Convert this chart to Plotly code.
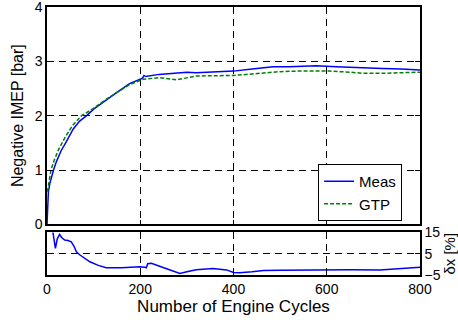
import plotly.graph_objects as go

# IMEP curves
meas_cycles = [0, 1, 3, 6, 10, 14, 20, 30, 40, 56, 70, 85, 100, 128, 150, 177, 200, 205, 208,
               212, 240, 270, 300, 320, 350, 370, 400, 440, 485, 520, 578, 620, 678, 720, 760, 800]
meas_imep = [0, 0.42, 0.6, 0.75, 0.88, 1.0, 1.15, 1.35, 1.5, 1.75, 1.9, 2.0, 2.12, 2.3, 2.43, 2.59,
             2.67, 2.69, 2.74, 2.72, 2.76, 2.78, 2.8, 2.79, 2.8, 2.81, 2.82, 2.86, 2.9, 2.9, 2.92,
             2.9, 2.89, 2.87, 2.86, 2.84]

gtp_cycles = [1, 4, 8.5, 15, 25, 40, 55, 74, 99, 130, 177, 206, 242, 278, 300, 320, 400, 464,
              500, 535, 607, 650, 678, 720, 760, 797, 800]
gtp_imep = [0.6, 0.8, 1.0, 1.17, 1.38, 1.62, 1.82, 2.0, 2.13, 2.32, 2.57, 2.67, 2.70, 2.66, 2.70,
            2.73, 2.74, 2.79, 2.81, 2.82, 2.82, 2.8, 2.78, 2.78, 2.79, 2.79, 2.8]

# relative difference, bottom panel
dx_cycles = [12, 16, 18, 22, 27, 32, 38, 45, 52, 58, 63, 70, 80, 92, 110, 127, 160, 180, 199,
             210, 213, 216, 224, 240, 255, 270, 285, 300, 320, 356, 385, 400, 413, 440, 464,
             500, 535, 570, 607, 650, 714, 750, 778, 800]
dx_pct = [16, 10, 7.5, 12, 14, 12.5, 11.4, 11.2, 10.6, 8.5, 5.9, 4.5, 3, 1.2, -0.5, -1.6, -1.6,
          -1.4, -1.1, -1.4, -1.6, 0.3, 0.5, -0.8, -2, -3.4, -4.3, -3.5, -2.5, -2, -2.6, -3.8,
          -3.9, -3.5, -2.9, -2.8, -2.7, -2.5, -2.3, -2.5, -2.6, -2.1, -1.6, -1.4]

x_ticks = [0, 200, 400, 600, 800]

FONT = dict(family="Arial, Liberation Sans, sans-serif", size=14, color="black")
GRID = dict(showgrid=True, gridcolor="black", gridwidth=1, griddash="7px,5px",
            zeroline=False, showline=True, linecolor="black", linewidth=1.5,
            mirror="ticks", ticks="inside", ticklen=5, tickcolor="black",
            automargin=False, ticklabeloverflow="allow")

fig = go.Figure()

fig.add_trace(go.Scatter(x=meas_cycles, y=meas_imep, mode="lines", name="Meas",
                         line=dict(color="#0000FF", width=1.5), xaxis="x", yaxis="y"))
fig.add_trace(go.Scatter(x=gtp_cycles, y=gtp_imep, mode="lines", name="GTP",
                         line=dict(color="#008000", width=1.5, dash="4px,2px"),
                         xaxis="x", yaxis="y"))
fig.add_trace(go.Scatter(x=dx_cycles, y=dx_pct, mode="lines", showlegend=False,
                         line=dict(color="#0000FF", width=1.5), xaxis="x2", yaxis="y2"))

fig.update_layout(
    width=458, height=320,
    margin=dict(l=47, r=38, t=7, b=45),
    paper_bgcolor="white", plot_bgcolor="white",
    font=FONT,
    xaxis=dict(domain=[0, 1], anchor="y", range=[0, 800], tickvals=x_ticks,
               showticklabels=False, **GRID),
    yaxis=dict(domain=[0.189, 1], anchor="x", range=[0, 4], tickvals=[0, 1, 2, 3, 4],
               title=dict(text="Negative IMEP [bar]", standoff=7, font=dict(size=16)),
               **GRID),
    xaxis2=dict(domain=[0, 1], anchor="y2", range=[0, 800], tickvals=x_ticks,
                title=dict(text="Number of Engine Cycles", standoff=3), **GRID),
    yaxis2=dict(domain=[0, 0.159], anchor="x2", range=[-5, 15], tickvals=[-5, 5, 15],
                side="right", title=dict(text="δx [%]", standoff=2, font=dict(size=15)),
                **GRID),
    legend=dict(x=0.952, y=0.2015, xanchor="right", yanchor="bottom",
                bgcolor="white", bordercolor="black", borderwidth=1,
                font=dict(size=15), tracegroupgap=0),
)

# drop the browser's default body margin so the figure sits at the page corner
fig.write_html("out.html", config={"displayModeBar": False},
               post_script="document.body.style.margin='0';")
